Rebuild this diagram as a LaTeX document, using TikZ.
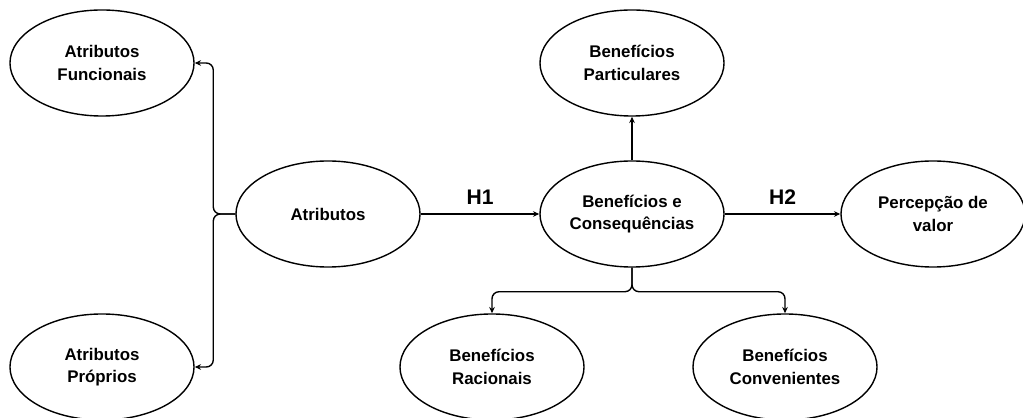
\documentclass[tikz,border=0pt]{standalone}
\usepackage{fontspec}
\setmainfont{Liberation Sans}
\usetikzlibrary{shapes.geometric,arrows.meta}

\begin{document}
\begin{tikzpicture}[x=0.025cm,y=-0.025cm,
  every node/.style={font=\bfseries\fontsize{12}{16}\selectfont},
  bolha/.style={draw,ellipse,line width=1pt,minimum width=4.6cm,minimum height=2.65cm,inner sep=0pt,align=center},
  seta/.style={draw,line width=1pt,-{Stealth[length=4.5pt,width=4pt]}},
  rotulo/.style={font=\bfseries\fontsize{15}{18}\selectfont,inner sep=0pt}]
  \useasboundingbox (0,0) rectangle (1023,418);
  \node[bolha] (funcionais) at (102,63) {Atributos\\Funcionais};
  \node[bolha] (proprios) at (102,367) {Atributos\\Próprios};
  \node[bolha] (atributos) at (328,214) {Atributos};
  \node[bolha] (beneficios) at (632,214) {Benefícios e\\Consequências};
  \node[bolha] (percepcao) at (933,214) {Percepção de\\valor};
  \node[bolha] (particulares) at (632,63) {Benefícios\\Particulares};
  \node[bolha] (racionais) at (492,367) {Benefícios\\Racionais};
  \node[bolha] (convenientes) at (785,367) {Benefícios\\Convenientes};
  \draw[seta,rounded corners=5pt] (atributos.west) -- ++(-22,0) |- (funcionais.east);
  \draw[seta,rounded corners=5pt] (atributos.west) -- ++(-22,0) |- (proprios.east);
  \draw[seta] (atributos) -- node[rotulo,above=6pt] {H1} (beneficios);
  \draw[seta] (beneficios) -- node[rotulo,above=6pt] {H2} (percepcao);
  \draw[seta] (beneficios) -- (particulares);
  \draw[seta,rounded corners=5pt] (beneficios.south) -- ++(0,24) -| (racionais.north);
  \draw[seta,rounded corners=5pt] (beneficios.south) -- ++(0,24) -| (convenientes.north);
\end{tikzpicture}
\end{document}
